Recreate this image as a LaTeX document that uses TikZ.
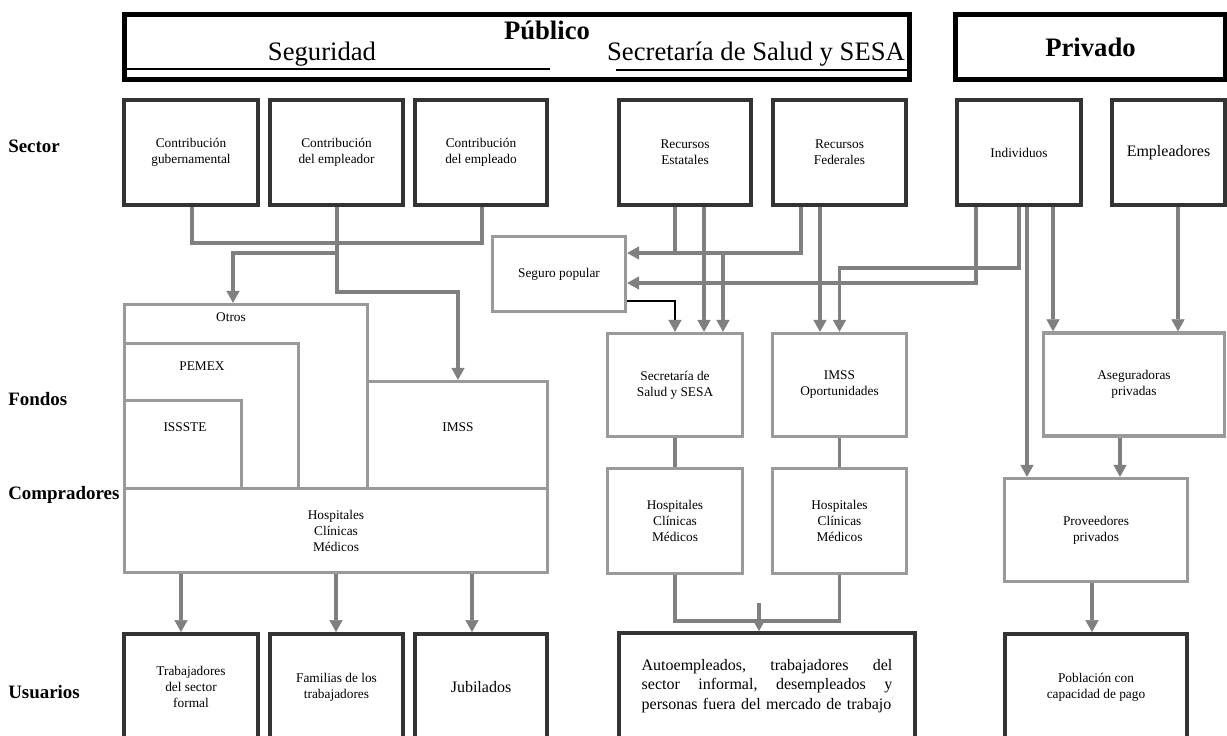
\documentclass[tikz,border=0pt]{standalone}
\usepackage{fontspec}
\setmainfont{Liberation Serif}
\usetikzlibrary{arrows.meta}

\definecolor{boxdark}{HTML}{333333}
\definecolor{boxlight}{HTML}{9A9A9A}
\definecolor{flowgray}{HTML}{808080}

\newcommand{\smalltxt}{\fontsize{10}{12}\selectfont}
\newcommand{\midtxt}{\fontsize{12}{14.5}\selectfont}
\newcommand{\rowtxt}{\fontsize{14.2}{17}\selectfont\bfseries}
\newcommand{\hdrtxt}{\fontsize{20}{24}\selectfont}

\tikzset{
    darkbox/.style={draw=boxdark, line width=3pt, fill=white, align=center, inner sep=2pt, font=\smalltxt},
    lightbox/.style={draw=boxlight, line width=2.6pt, fill=white, align=center, inner sep=2pt, font=\smalltxt},
    hdrbox/.style={draw=black, line width=3.75pt, minimum height=48.75pt},
    sectorrow/.style={darkbox, minimum height=78.75pt},
    userrow/.style={darkbox, minimum height=79.5pt},
    fundrow/.style={lightbox, minimum height=77.25pt},
    buyrow/.style={lightbox, minimum height=78.75pt},
    flow/.style={draw=flowgray, line width=2.6pt},
    arr/.style={flow, -{Triangle[width=10pt,length=9pt,line width=0.4pt]}},
    blackarr/.style={draw=black, line width=1.2pt, -{Triangle[width=10pt,length=9pt,line width=0.4pt,color=flowgray]}},
    rowlabel/.style={anchor=west, font=\rowtxt, inner sep=0pt}
}

\begin{document}
\begin{tikzpicture}[x=0.75pt, y=-0.75pt]
    \useasboundingbox (0,0) rectangle (1227,735);

    % Header
    \node[hdrbox, minimum width=588.75pt] (pub) at (517,47) {};
    \node[hdrbox, minimum width=202.5pt, font=\hdrtxt\bfseries] (priv) at (1090.5,47) {Privado};
    \node[font=\hdrtxt\bfseries] (pubT) at (547,30) {Público};
    \node[font=\hdrtxt] (segT) at (322,54) {Seguridad};
    \node[font=\hdrtxt] (ssaT) at (756,54) {Secretaría de Salud y SESA};
    \draw[line width=1.5pt] (126,69.5) -- (550,69.5);
    \draw[line width=1.5pt] (616,70.5) -- (908,70.5);

    % Row labels
    \node[rowlabel] (lsector) at (8,146) {Sector};
    \node[rowlabel] (lfondos) at (8,399) {Fondos};
    \node[rowlabel] (lcomp) at (8,495) {Compradores};
    \node[rowlabel] (lusu) at (8,692) {Usuarios};

    % Sector
    \node[sectorrow, minimum width=100.5pt] (cg) at (191,152.5) {Contribución\\gubernamental};
    \node[sectorrow, minimum width=99.75pt] (ce) at (336.5,152.5) {Contribución\\del empleador};
    \node[sectorrow, minimum width=99pt] (cdo) at (481,152.5) {Contribución\\del empleado};
    \node[sectorrow, minimum width=99pt] (re) at (685,152.5) {Recursos\\Estatales};
    \node[sectorrow, minimum width=99.75pt] (rf) at (839.5,152.5) {Recursos\\Federales};
    \node[sectorrow, minimum width=93pt] (ind) at (1019,152.5) {Individuos};
    \node[sectorrow, minimum width=84.75pt, font=\midtxt] (emp) at (1168.5,152.5) {Empleadores};

    % Fondos y compradores (seguridad social)
    \node[lightbox, minimum width=182.25pt, minimum height=138pt] (otros) at (246,396.5) {};
    \node[lightbox, minimum width=130.5pt, minimum height=108.75pt] (pemex) at (211.5,416) {};
    \node[lightbox, minimum width=87.75pt, minimum height=66pt] (issste) at (183,444.5) {};
    \node[lightbox, minimum width=135pt, minimum height=80.25pt] (imss) at (457.5,435) {};
    \node[lightbox, minimum width=317.25pt, minimum height=63pt] (hosp) at (336,530.5) {Hospitales\\Clínicas\\Médicos};
    \node[font=\smalltxt] (otrosT) at (231,317) {Otros};
    \node[font=\smalltxt] (pemexT) at (202,366) {PEMEX};
    \node[font=\smalltxt] (issteT) at (185,427) {ISSSTE};
    \node[font=\smalltxt] (imssT) at (458,427) {IMSS};

    % Fondos y compradores (SSA)
    \node[lightbox, minimum width=99.75pt, minimum height=56.25pt] (seg) at (559,274) {Seguro popular};
    \node[fundrow, minimum width=101.25pt] (secf) at (675,385) {Secretaría de\\Salud y SESA};
    \node[fundrow, minimum width=100.5pt] (imo) at (839.5,385) {IMSS\\Oportunidades};
    \node[buyrow, minimum width=101.25pt] (hos1) at (675,521) {Hospitales\\Clínicas\\Médicos};
    \node[buyrow, minimum width=100.5pt] (hos2) at (839.5,521) {Hospitales\\Clínicas\\Médicos};

    % Fondos y compradores (privado)
    \node[fundrow, minimum width=135.75pt] (aseg) at (1134,384.5) {Aseguradoras\\privadas};
    \node[fundrow, minimum width=137.25pt] (prov) at (1096,530) {Proveedores\\privados};

    % Usuarios
    \node[userrow, minimum width=100.5pt] (trab) at (191,687) {Trabajadores\\del sector\\formal};
    \node[userrow, minimum width=99.75pt] (fam) at (336.5,687) {Familias de los\\trabajadores};
    \node[userrow, minimum width=99pt, font=\midtxt] (jub) at (481,687) {Jubilados};
    \node[userrow, minimum width=222pt, font=\midtxt, text width=188pt, align=left] (auto) at (767,686)
        {Autoempleados,\hfill trabajadores\hfill del\\
         sector\hfill informal,\hfill desempleados\hfill y\\
         \mbox{personas fuera del mercado de trabajo}};
    \node[userrow, minimum width=136.5pt] (pob) at (1096,687) {Población con\\capacidad de pago};

    % Junctions
    \coordinate (jotros) at (337,253);
    \coordinate (jsesa) at (723,253);
    \coordinate (jauto) at (759,603);

    % Seguridad social flows
    \draw[flow] (cg.south -| 192,0) -- (192,243) -| (cdo.south -| 482,0);
    \draw[arr] (ce.south -| 337,0) |- (458,292) -- (imss.north -| 458,0);
    \draw[arr] (jotros) -| (otros.north -| 233,0);
    \draw[arr] (hosp.south -| 181,0) -- (trab.north -| 181,0);
    \draw[arr] (hosp.south -| 336,0) -- (fam.north -| 336,0);
    \draw[arr] (hosp.south -| 472,0) -- (jub.north -| 472,0);

    % SSA flows
    \draw[flow] (re.south -| 675,0) -- (675,253);
    \draw[arr] (re.south -| 704,0) -- (secf.north -| 704,0);
    \draw[arr] (rf.south -| 801,0) |- (seg.east |- 0,253);
    \draw[arr] (jsesa) -- (secf.north -| jsesa);
    \draw[arr] (rf.south -| 820,0) -- (imo.north -| 820,0);
    \draw[arr] (ind.south -| 976,0) |- (seg.east |- 0,283);
    \draw[arr] (ind.south) -- (1019,268) -| (imo.north);
    \draw[blackarr] (seg.east |- 0,301) -| (secf.north);
    \draw[flow] (secf) -- (hos1);
    \draw[flow] (imo) -- (hos2);
    \draw[flow] (hos1.south) -- (675,621) -| (hos2.south);
    \draw[arr] (jauto) -- (auto.north -| jauto);

    % Private flows
    \draw[arr] (ind.south -| 1027,0) -- (prov.north -| 1027,0);
    \draw[arr] (ind.south -| 1053,0) -- (aseg.north -| 1053,0);
    \draw[arr] (emp.south -| 1178,0) -- (aseg.north -| 1178,0);
    \draw[arr] (aseg.south -| 1120,0) -- (prov.north -| 1120,0);
    \draw[arr] (prov.south -| 1092,0) -- (pob.north -| 1092,0);
\end{tikzpicture}
\end{document}
